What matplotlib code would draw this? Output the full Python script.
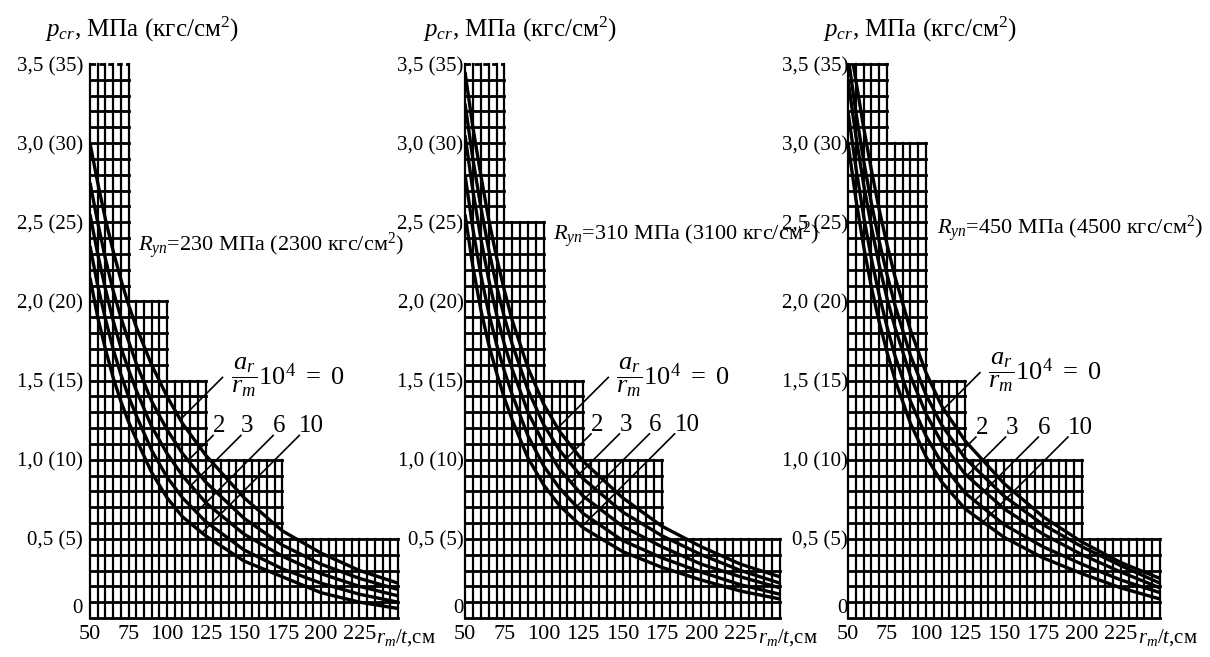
import numpy as np
import matplotlib
matplotlib.use("Agg")
import matplotlib.pyplot as plt

plt.rcParams['font.family'] = ['Liberation Serif', 'DejaVu Serif']
plt.rcParams['mathtext.fontset'] = 'custom'
plt.rcParams['mathtext.rm'] = 'Liberation Serif'
plt.rcParams['mathtext.it'] = 'Liberation Serif:italic'

rt = [50, 55, 60, 65, 70, 75, 80, 90, 100, 110, 125, 150, 175, 200, 225, 250]
imperf = ["0", "2", "3", "6", "10"]

# R_yn = 230 MPa
p230_0 = [3.00, 2.75, 2.52, 2.32, 2.14, 1.98, 1.84, 1.60, 1.40, 1.23, 1.03, 0.76, 0.55, 0.41, 0.30, 0.22]
p230_2 = [2.75, 2.50, 2.27, 2.07, 1.90, 1.75, 1.61, 1.37, 1.19, 1.04, 0.86, 0.63, 0.46, 0.34, 0.25, 0.18]
p230_3 = [2.55, 2.30, 2.08, 1.88, 1.71, 1.57, 1.44, 1.21, 1.04, 0.90, 0.73, 0.53, 0.39, 0.28, 0.20, 0.14]
p230_6 = [2.35, 2.10, 1.89, 1.70, 1.54, 1.40, 1.28, 1.06, 0.89, 0.76, 0.61, 0.43, 0.31, 0.22, 0.15, 0.10]
p230_10 = [2.15, 1.90, 1.70, 1.52, 1.37, 1.24, 1.13, 0.92, 0.76, 0.64, 0.52, 0.36, 0.26, 0.16, 0.10, 0.06]

# R_yn = 310 MPa
p310_0 = [3.45, 3.10, 2.80, 2.52, 2.28, 2.07, 1.88, 1.58, 1.35, 1.18, 0.99, 0.76, 0.58, 0.45, 0.34, 0.26]
p310_2 = [3.25, 2.90, 2.60, 2.33, 2.10, 1.90, 1.73, 1.44, 1.22, 1.06, 0.88, 0.67, 0.52, 0.40, 0.30, 0.22]
p310_3 = [3.05, 2.70, 2.40, 2.14, 1.92, 1.73, 1.57, 1.30, 1.10, 0.94, 0.77, 0.58, 0.45, 0.34, 0.26, 0.19]
p310_6 = [2.80, 2.46, 2.17, 1.93, 1.73, 1.56, 1.41, 1.15, 0.96, 0.82, 0.66, 0.49, 0.38, 0.29, 0.21, 0.15]
p310_10 = [2.55, 2.22, 1.95, 1.73, 1.55, 1.39, 1.25, 1.01, 0.84, 0.71, 0.57, 0.42, 0.32, 0.24, 0.17, 0.12]

# R_yn = 450 MPa
p450_0 = [3.70, 3.40, 3.10, 2.83, 2.58, 2.36, 2.16, 1.82, 1.55, 1.34, 1.12, 0.85, 0.64, 0.48, 0.35, 0.25]
p450_2 = [3.55, 3.20, 2.89, 2.62, 2.38, 2.17, 1.98, 1.66, 1.41, 1.22, 1.01, 0.77, 0.59, 0.45, 0.33, 0.22]
p450_3 = [3.40, 3.05, 2.74, 2.47, 2.23, 2.02, 1.84, 1.53, 1.29, 1.11, 0.91, 0.69, 0.53, 0.40, 0.29, 0.19]
p450_6 = [3.20, 2.85, 2.54, 2.27, 2.04, 1.84, 1.66, 1.37, 1.15, 0.98, 0.79, 0.59, 0.45, 0.34, 0.24, 0.16]
p450_10 = [3.00, 2.65, 2.35, 2.09, 1.87, 1.68, 1.51, 1.23, 1.02, 0.86, 0.69, 0.51, 0.38, 0.28, 0.19, 0.12]

# stepped grid: (from r/t, to r/t, top p)
steps_230 = [(50, 75, 3.5), (75, 100, 2.0), (100, 125, 1.5), (125, 175, 1.0), (175, 250, 0.5)]
steps_310 = [(50, 75, 3.5), (75, 100, 2.5), (100, 125, 1.5), (125, 175, 1.0), (175, 250, 0.5)]
steps_450 = [(50, 75, 3.5), (75, 100, 3.0), (100, 125, 1.5), (125, 200, 1.0), (200, 250, 0.5)]

xticks = [50, 75, 100, 125, 150, 175, 200, 225]
yticks = [0, 0.5, 1.0, 1.5, 2.0, 2.5, 3.0, 3.5]
ylabels = ["0", "0,5 (5)", "1,0 (10)", "1,5 (15)", "2,0 (20)", "2,5 (25)", "3,0 (30)", "3,5 (35)"]

panels = [
    dict(R="230", curves=[p230_0, p230_2, p230_3, p230_6, p230_10], steps=steps_230,
         dashed=True, rect=[90, 308], ypad=5, title_dx=-45,
         rlab=(81, 2.35), frac=(178, 1.52), nums=[134, 152, 173, 194], num_y=1.21),
    dict(R="310", curves=[p310_0, p310_2, p310_3, p310_6, p310_10], steps=steps_310,
         dashed=True, rect=[465, 315], ypad=1, title_dx=-42,
         rlab=(106, 2.42), frac=(182, 1.52), nums=[134, 152, 171, 191], num_y=1.22),
    dict(R="450", curves=[p450_0, p450_2, p450_3, p450_6, p450_10], steps=steps_450,
         dashed=False, rect=[848, 312], ypad=0, title_dx=-25,
         rlab=(107, 2.46), frac=(176, 1.55), nums=[136, 155, 176, 199], num_y=1.20),
]

W, H = 1210, 657
fig = plt.figure(figsize=(W / 100, H / 100), dpi=100)
FS = 15


def draw_grid(ax, steps, dashed_top):
    def top_at(x):
        t = 0
        for a, b, h in steps:
            if a - 1e-9 <= x <= b + 1e-9:
                t = max(t, h)
        return t
    for x in range(50, 251, 5):
        ax.plot([x, x], [0, top_at(x)], color='k', lw=1.6, clip_on=False, zorder=1)
    for k in range(36):
        y = k / 10
        right = max(b for a, b, h in steps if h >= y - 1e-9)
        ls = (0, (2.0, 1.2)) if (k == 35 and dashed_top) else '-'
        ax.plot([50, right], [y, y], color='k', lw=2.0, ls=ls, clip_on=False, zorder=1)


def leader(ax, start_disp, vals):
    # straight 45 degree leader from the label down-left until it meets the curve
    inv = ax.transData.inverted()
    x0, y0 = inv.transform(start_disp)
    for t in np.arange(0, 250, 0.5):
        x, y = inv.transform((start_disp[0] - t, start_disp[1] - t))
        if y <= np.interp(x, rt, vals):
            ax.plot([x0, x], [y0, y], color='k', lw=1.2, zorder=4)
            return


axes = []
for pn in panels:
    left, width = pn["rect"]
    ax = fig.add_axes([left / W, 1 - 618 / H, width / W, (618 - 64) / H])
    ax.set_xlim(50, 250)
    ax.set_ylim(0, 3.5)
    for s in ax.spines.values():
        s.set_visible(False)
    ax.set_xticks(xticks)
    ax.set_xticklabels([str(v) for v in xticks])
    ax.set_yticks(yticks)
    ax.set_yticklabels(ylabels)
    ax.tick_params(axis='both', length=0, labelsize=FS)
    ax.tick_params(axis='y', pad=pn["ypad"])
    ax.tick_params(axis='x', labelsize=FS + 1, pad=5)
    ax.get_yticklabels()[0].set_va('bottom')

    draw_grid(ax, pn["steps"], pn["dashed"])

    for vals in pn["curves"]:
        ax.plot(rt, vals, color='k', lw=2.4, zorder=3, solid_capstyle='butt')

    # axis captions
    ax.annotate(r'$p_{cr}$, МПа (кгс/см$^2$)', xy=(0, 1), xycoords='axes fraction',
                xytext=(pn["title_dx"], 27), textcoords='offset pixels',
                ha='left', va='baseline', fontsize=18, annotation_clip=False)
    ax.annotate(r'$r_m/t$,см', xy=(1, 0), xycoords='axes fraction',
                xytext=(-22, -9), textcoords='offset pixels',
                ha='left', va='top', fontsize=FS, annotation_clip=False)
    ax.text(pn["rlab"][0], pn["rlab"][1],
            r'$R_{yn}$=' + pn["R"] + ' МПа (' + pn["R"] + '0 кгс/см$^2$)',
            ha='left', va='center', fontsize=16, zorder=5)

    pn["frac_txt"] = ax.text(pn["frac"][0], pn["frac"][1],
                             r'$\dfrac{a_r}{r_m}10^4\ =\ 0$',
                             ha='center', va='center', fontsize=19, zorder=5)
    pn["num_txt"] = [ax.text(xn, pn["num_y"], lab, ha='center', va='center',
                             fontsize=18, zorder=5)
                     for lab, xn in zip(imperf[1:], pn["nums"])]
    axes.append(ax)

fig.canvas.draw()
rend = fig.canvas.get_renderer()
for ax, pn in zip(axes, panels):
    bb = pn["frac_txt"].get_window_extent(rend)
    leader(ax, (bb.x0 - 8, (bb.y0 + bb.y1) / 2), pn["curves"][0])
    for txt, vals in zip(pn["num_txt"], pn["curves"][1:]):
        bb = txt.get_window_extent(rend)
        leader(ax, (bb.x0, bb.y0 + 2), vals)

fig.savefig("out.png", dpi=100)
